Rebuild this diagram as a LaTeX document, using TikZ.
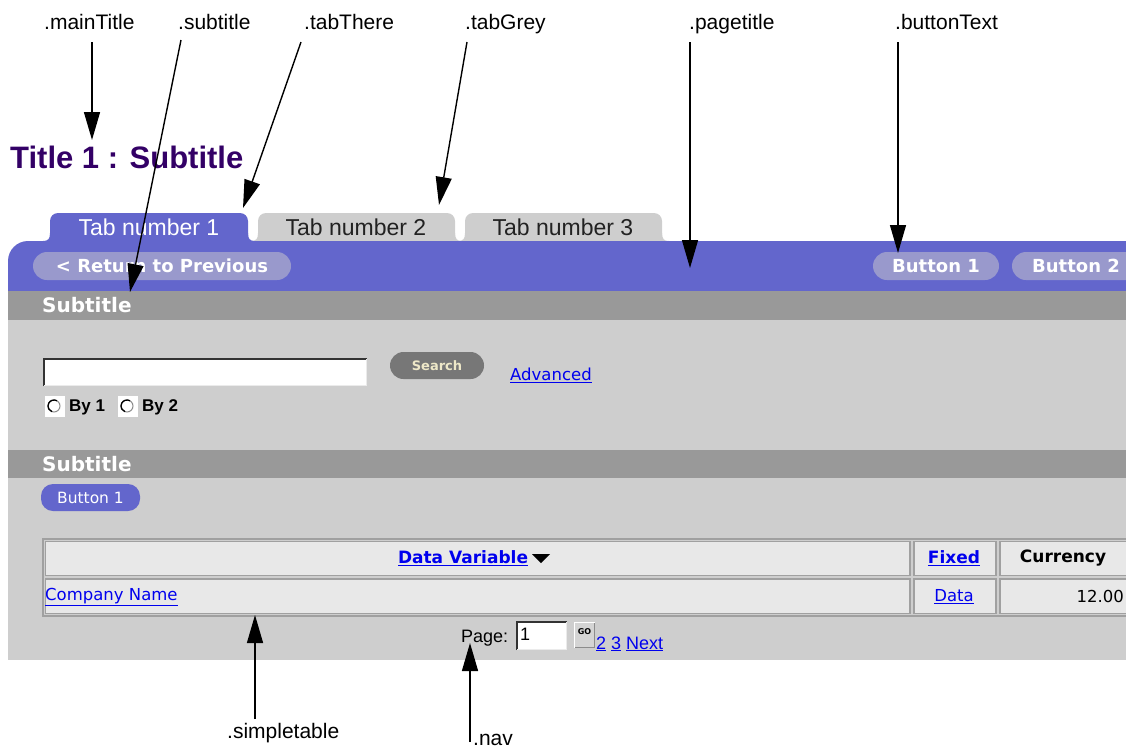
\documentclass[tikz,border=0pt]{standalone}
\usepackage{fontspec}
\setmainfont{Liberation Sans}
\newfontfamily\uifont{DejaVu Sans}
\usetikzlibrary{arrows.meta}
\definecolor{bandblue}{RGB}{99,102,204}
\definecolor{pilllav}{RGB}{153,153,204}
\definecolor{panelgrey}{RGB}{206,206,206}
\definecolor{bargrey}{RGB}{153,153,153}
\definecolor{cellgrey}{RGB}{232,232,232}
\definecolor{cellline}{RGB}{160,160,160}
\definecolor{linkblue}{RGB}{0,0,238}
\definecolor{titlepurple}{RGB}{51,0,102}
\definecolor{searchgrey}{RGB}{119,119,119}
\definecolor{searchtext}{RGB}{238,232,200}
\definecolor{tabtext}{RGB}{34,34,34}
\newcommand\fsz[1]{\fontsize{#1}{#1}\selectfont}
% a tab: rounded top corners, concave flares where it meets the band
\newcommand\tabshape[3]{%
  \fill[#1] (#2,241) [rounded corners=8pt] -- (#2,213) -- (#3,213) [sharp corners] -- (#3,241) -- cycle;
  \fill[#1] (#2-7,241) .. controls (#2-2,241) and (#2,239) .. (#2,233) -- (#2,241) -- cycle;
  \fill[#1] (#3+7,241) .. controls (#3+2,241) and (#3,239) .. (#3,233) -- (#3,241) -- cycle;}
\begin{document}
\begin{tikzpicture}[x=1pt,y=-1pt,
  callout/.style={font=\fsz{21}, inner sep=0pt, anchor=base west},
  pointer/.style={line width=1.4pt, -{Triangle[length=28pt,width=16pt]}},
  tablabel/.style={font=\fsz{23}, inner sep=0pt},
  bandpill/.style={fill=pilllav, rounded corners=14pt, minimum height=28pt, inner sep=0pt,
    text=white, font=\uifont\bfseries\fsz{18}},
  bartext/.style={anchor=west, inner sep=0pt, text=white, font=\uifont\bfseries\fsz{20}},
  link/.style={inner sep=0pt, text=linkblue, font=\uifont\fsz{16.5}},
  headlink/.style={inner sep=0pt, text=linkblue, font=\uifont\bfseries\fsz{17}},
  cell/.style={fill=cellgrey, draw=cellline, line width=1.2pt},
  uitext/.style={inner sep=0pt, font=\uifont\fsz{16.5}},
]
\useasboundingbox (0,0) rectangle (1126,748);
\clip (0,0) rectangle (1126,748);

% page heading
\node[anchor=base west, inner sep=0pt, text=titlepurple, font=\bfseries\fsz{31}] (title) at (10,168) {Title 1 : Subtitle};

% tabs
\tabshape{bandblue}{50}{248}
\tabshape{panelgrey}{258}{455}
\tabshape{panelgrey}{465}{662}
\node[tablabel, text=white] (tab1) at (149,227) {Tab number 1};
\node[tablabel, text=tabtext] (tab2) at (356,227) {Tab number 2};
\node[tablabel, text=tabtext] (tab3) at (563,227) {Tab number 3};

% page-title band
\fill[bandblue] (8,291) [rounded corners=20pt] -- (8,241) [sharp corners] -- (1140,241) -- (1140,291) -- cycle;
\node[bandpill, minimum width=258pt] (back) at (162,266) {< Return to Previous};
\node[bandpill, minimum width=126pt] (btn1) at (936,266) {Button 1};
\node[bandpill, minimum width=128pt] (btn2) at (1076,266) {Button 2};

% content panel and subtitle bars
\fill[panelgrey] (8,291) rectangle (1140,660);
\fill[bargrey] (8,291) rectangle (1140,320);
\fill[bargrey] (8,450) rectangle (1140,478);
\node[bartext] (sub1) at (42,305) {Subtitle};
\node[bartext] (sub2) at (42,464) {Subtitle};

% search form
\fill[white] (43,358) rectangle (367,386);
\draw[black!80, line width=1.6pt] (43.8,386) -- (43.8,358.8) -- (367,358.8);
\draw[black!8, line width=1pt] (44,385.5) -- (366.5,385.5) -- (366.5,359);
\node[fill=searchgrey, rounded corners=13.5pt, minimum width=94pt, minimum height=27pt, inner sep=0pt,
  text=searchtext, font=\uifont\bfseries\fsz{13}] (search) at (437,365.5) {Search};
\node[link, anchor=west] (adv) at (510,375) {\underline{Advanced}};
\fill[white] (45,396) rectangle (65,417);
\draw[black!45, line width=1pt] (54,406) circle (6pt);
\draw[black, line width=1.3pt] (54,406) ++(60:6pt) arc (60:250:6pt);
\node[inner sep=0pt, anchor=west, font=\bfseries\fsz{17}] (by1) at (69,407) {By 1};
\fill[white] (118,396) rectangle (138,417);
\draw[black!45, line width=1pt] (127,406) circle (6pt);
\draw[black, line width=1.3pt] (127,406) ++(60:6pt) arc (60:250:6pt);
\node[inner sep=0pt, anchor=west, font=\bfseries\fsz{17}] (by2) at (142,407) {By 2};

% second section button
\node[fill=bandblue, rounded corners=12pt, minimum width=99pt, minimum height=27pt, inner sep=0pt,
  text=white, font=\uifont\fsz{15.5}] (secbtn) at (90.5,497.5) {Button 1};

% data table
\draw[cellline, line width=1.2pt] (43,539) rectangle (1140,616);
\draw[cell] (45.5,541.5) rectangle (910,575.5);
\draw[cell] (914,541.5) rectangle (996,575.5);
\draw[cell] (1000,541.5) rectangle (1140,575.5);
\draw[cell] (45.5,579) rectangle (910,613.5);
\draw[cell] (914,579) rectangle (996,613.5);
\draw[cell] (1000,579) rectangle (1140,613.5);
\node[headlink] (hdata) at (463,558) {\underline{Data Variable}};
\fill[black] (532,554) -- (550,554) -- (541,563) -- cycle;
\node[headlink] (hfixed) at (954,558) {\underline{Fixed}};
\node[inner sep=0pt, font=\uifont\bfseries\fsz{17}] (hcur) at (1063,558) {Currency};
\node[link, anchor=west] (company) at (45,597) {\underline{Company Name}};
\node[link] (data) at (954,597) {\underline{Data}};
\node[uitext, anchor=east] (amount) at (1124,596) {12.00};

% pager
\node[inner sep=0pt, anchor=west, font=\fsz{18}] (pagelbl) at (461,638) {Page:};
\fill[white] (516,621) rectangle (567,650);
\draw[black!80, line width=1.6pt] (516.8,650) -- (516.8,621.8) -- (567,621.8);
\draw[black!8, line width=1pt] (517,649.5) -- (566.5,649.5) -- (566.5,622);
\node[inner sep=0pt, anchor=west, font=\fsz{18}] (pageno) at (520,634) {1};
\fill[black!17] (574,622) rectangle (595,648);
\draw[white, line width=1pt] (574.5,648) -- (574.5,622.5) -- (595,622.5);
\draw[black!45, line width=1pt] (575,647.5) -- (594.5,647.5) -- (594.5,623);
\node[inner sep=0pt, font=\uifont\bfseries\fsz{8}] (go) at (584.5,632) {GO};
\node[inner sep=0pt, anchor=base west, text=linkblue, font=\fsz{18}] (pages) at (596,649)
  {\underline{2} \underline{3} \underline{Next}};

% callout labels
\node[callout] (lmain) at (44,29) {.mainTitle};
\node[callout] (lsub) at (178,29) {.subtitle};
\node[callout] (lthere) at (304,29) {.tabThere};
\node[callout] (lgrey) at (465,29) {.tabGrey};
\node[callout] (lpage) at (689,29) {.pagetitle};
\node[callout] (lbtn) at (895,29) {.buttonText};
\node[callout] (ltable) at (227,738) {.simpletable};
\node[callout] (lnav) at (473,745) {.nav};

% pointer ends
\coordinate (smain) at (92,42);   \coordinate (tmain) at (92,140);
\coordinate (ssub) at (181,40);   \coordinate (tsub) at (130,292);
\coordinate (sthere) at (301,42); \coordinate (tthere) at (243,208);
\coordinate (sgrey) at (467,42);  \coordinate (tgrey) at (439,205);
\coordinate (spage) at (690,42);  \coordinate (tpage) at (690,268);
\coordinate (sbtn) at (898,42);   \coordinate (tbtn) at (898,253);
\coordinate (stable) at (255,719);\coordinate (ttable) at (255,615);
\coordinate (snav) at (470,742);  \coordinate (tnav) at (470,643);

\draw[pointer] (smain) -- (tmain);
\draw[pointer] (ssub) -- (tsub);
\draw[pointer] (sthere) -- (tthere);
\draw[pointer] (sgrey) -- (tgrey);
\draw[pointer] (spage) -- (tpage);
\draw[pointer] (sbtn) -- (tbtn);
\draw[pointer] (stable) -- (ttable);
\draw[pointer] (snav) -- (tnav);
\end{tikzpicture}
\end{document}
